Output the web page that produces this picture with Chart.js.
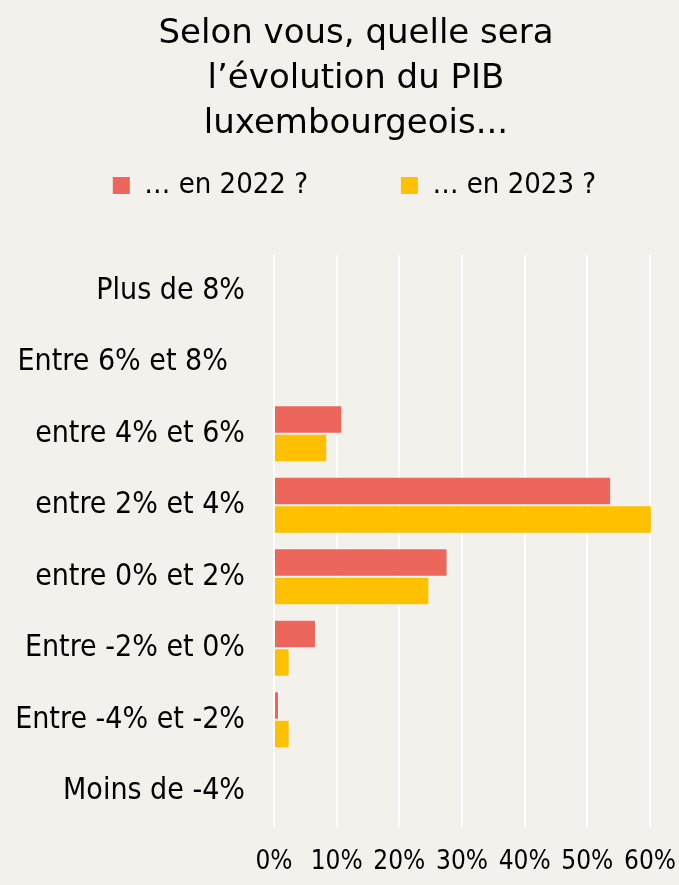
<!DOCTYPE html>
<html lang="fr">
<head>
  <meta charset="UTF-8">
  <title>Evolution du PIB luxembourgeois</title>
  <script src="https://cdn.jsdelivr.net/npm/chart.js"></script>
  <style>
    html, body { margin: 0; padding: 0; background: #f2f1ec; }
    #wrap { width: 679px; height: 885px; position: relative; }
  </style>
</head>
<body>
  <div id="wrap"><canvas id="pibChart"></canvas></div>

  <script>
    const titleLines = ['Selon vous, quelle sera', 'l\u2019évolution du PIB', 'luxembourgeois...'];
    const categories = ['Plus de 8%', 'Entre 6% et 8%  ', 'entre 4% et 6%', 'entre 2% et 4%',
                        'entre 0% et 2%', 'Entre -2% et 0%', 'Entre -4% et -2%', 'Moins de -4%'];
    const seriesNames = ['\u2026 en 2022 ?', '\u2026 en 2023 ?'];
    const values2022 = [0, 0, 10.9, 53.8, 27.7, 6.7, 0.8, 0];
    const values2023 = [0, 0, 8.5, 60.3, 24.8, 2.5, 2.5, 0];
    const xTicks = [0, 10, 20, 30, 40, 50, 60];

    const FONT = "'DejaVu Sans Condensed', 'DejaVu Sans', sans-serif";
    Chart.defaults.font.family = FONT;
    Chart.defaults.color = '#000';

    // wide gap between the two legend entries, like the original
    const legendGap = '\u00a0'.repeat(10);

    // title and legend sit a bit right of the canvas centre in the original
    const shiftHeader = {
      id: 'shiftHeader',
      afterLayout(chart) {
        if (chart.titleBlock) chart.titleBlock.left += 33;
        if (chart.legend) chart.legend.left += 30;
      }
    };

    new Chart(document.getElementById('pibChart'), {
      type: 'bar',
      data: {
        labels: categories,
        datasets: [
          { label: seriesNames[0], data: values2022, backgroundColor: '#ed665c',
            borderColor: 'rgba(255,255,255,0.45)', borderWidth: 1, clip: false },
          { label: seriesNames[1], data: values2023, backgroundColor: '#ffc000',
            borderColor: 'rgba(255,255,255,0.45)', borderWidth: 1, clip: false }
        ]
      },
      options: {
        indexAxis: 'y',
        responsive: true,
        maintainAspectRatio: false,
        animation: false,
        datasets: { bar: { categoryPercentage: 0.8, barPercentage: 1.0 } },
        layout: { padding: 0 },
        plugins: {
          title: {
            display: true,
            text: titleLines,
            font: { family: "'DejaVu Sans', sans-serif", size: 34, weight: 'normal', lineHeight: '45px' },
            color: '#000',
            padding: { top: 12, bottom: 14 }
          },
          subtitle: {
            display: true,
            text: '',
            weight: 500,
            font: { size: 1, lineHeight: '1px' },
            padding: { top: 0, bottom: 44 }
          },
          legend: {
            position: 'top',
            labels: {
              font: { size: 29 },
              color: '#000',
              boxWidth: 17,
              boxHeight: 17,
              padding: 10,
              generateLabels: (chart) => {
                const items = Chart.defaults.plugins.legend.labels.generateLabels(chart);
                items.forEach((it, i) => {
                  it.lineWidth = 0;
                  if (i === 0) it.text = it.text + legendGap;
                });
                return items;
              }
            }
          },
          tooltip: { enabled: false }
        },
        scales: {
          x: {
            min: 0,
            max: 60,
            afterBuildTicks: (scale) => { scale.ticks = xTicks.map(v => ({ value: v })); },
            afterFit: (scale) => {
              scale.paddingLeft = 0;
              scale.paddingRight = 29;
              scale.height = 58;
            },
            ticks: {
              callback: (v) => v + '%',
              font: { size: 26 },
              color: '#000',
              padding: 20,
              maxRotation: 0,
              autoSkip: false
            },
            grid: { color: '#ffffff', lineWidth: 2, drawTicks: false },
            border: { display: false }
          },
          y: {
            afterFit: (scale) => {
              scale.width = 274;
              scale.paddingTop = 0;
              scale.paddingBottom = 0;
            },
            ticks: {
              font: { size: 30 },
              color: '#000',
              padding: 29
            },
            grid: { display: false, drawTicks: false },
            border: { display: false }
          }
        }
      },
      plugins: [shiftHeader]
    });
  </script>
</body>
</html>
